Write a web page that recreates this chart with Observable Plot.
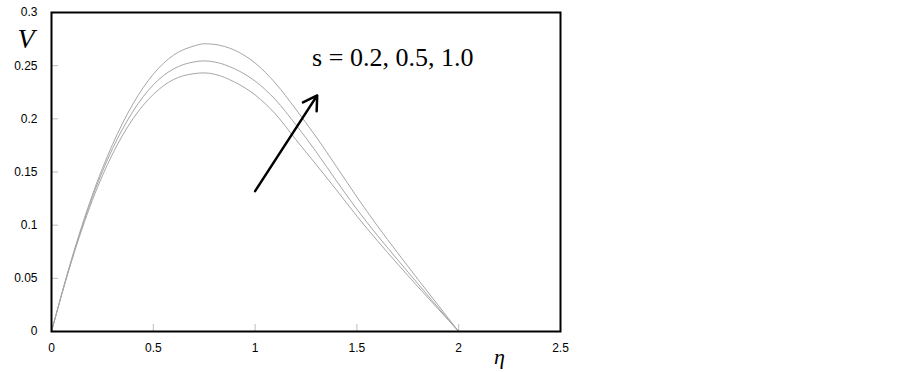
<!DOCTYPE html>
<html><head><meta charset="utf-8">
<script src="https://cdn.jsdelivr.net/npm/d3@7"></script>
<script src="https://cdn.jsdelivr.net/npm/@observablehq/plot@0.6"></script>
<style>body{margin:0;background:#fff}</style>
</head><body><div id="chart"></div>
<script>
// η grid and velocity profiles V(η) for three values of s
const eta   = [0, 0.1, 0.2, 0.3, 0.4, 0.5, 0.6, 0.7, 0.75, 0.8, 0.9, 1.0, 1.1, 1.2, 1.3, 1.4, 1.5, 1.6, 1.7, 1.8, 1.9, 2.0];
const V_s02 = [0, 0.067, 0.123, 0.167, 0.200, 0.223, 0.237, 0.2425, 0.2432, 0.2420, 0.2345, 0.2225, 0.2045, 0.1805, 0.1570, 0.1330, 0.1085, 0.0855, 0.0635, 0.0420, 0.0210, 0];
const V_s05 = [0, 0.068, 0.126, 0.172, 0.207, 0.232, 0.247, 0.2535, 0.2545, 0.2535, 0.2470, 0.2355, 0.2180, 0.1945, 0.1690, 0.1415, 0.1150, 0.0905, 0.0675, 0.0448, 0.0223, 0];
const V_s10 = [0, 0.069, 0.128, 0.176, 0.214, 0.242, 0.260, 0.2685, 0.2706, 0.2700, 0.2645, 0.2525, 0.2335, 0.2090, 0.1830, 0.1550, 0.1265, 0.0995, 0.0740, 0.0490, 0.0245, 0];
const sLabels = ["0.2", "0.5", "1.0"];

const xTicks = [0, 0.5, 1, 1.5, 2, 2.5];
const xTickLabels = ["0", "0.5", "1", "1.5", "2", "2.5"];
const yTicks = [0, 0.05, 0.1, 0.15, 0.2, 0.25, 0.3];
const yTickLabels = ["0", "0.05", "0.1", "0.15", "0.2", "0.25", "0.3"];

const annotationText = "s = 0.2, 0.5, 1.0";
const annotationAt = [{eta: 1.28, V: 0.2495}];
const arrowSeg = [{eta1: 1.0, V1: 0.132, eta2: 1.305, V2: 0.222}];
const xLabelText = "η";
const xLabelAt = [{eta: 2.2, V: 0}];
const yLabelText = "V";

const series = [V_s02, V_s05, V_s10];
const rows = [];
series.forEach((vals, k) => vals.forEach((v, i) => rows.push({eta: eta[i], V: v, s: sLabels[k]})));

const xLab = new Map(xTicks.map((t, i) => [t, xTickLabels[i]]));
const yLab = new Map(yTicks.map((t, i) => [t, yTickLabels[i]]));

const tickFont = "'Liberation Sans Narrow', 'Arial Narrow', 'Liberation Sans', Arial, sans-serif";
const serif = "'Liberation Serif', 'Times New Roman', serif";

const chart = Plot.plot({
  width: 902,
  height: 372,
  marginTop: 12,
  marginBottom: 41,
  marginLeft: 51,
  marginRight: 342,
  x: {domain: [0, 2.5], label: null},
  y: {domain: [0, 0.3], label: null},
  style: {fontFamily: tickFont, fontSize: "12px", color: "black", background: "white"},
  marks: [
    Plot.axisX({ticks: xTicks, tickSize: -7, stroke: "#bdbdbd", tickFormat: () => "", label: null}),
    Plot.axisX({ticks: xTicks, tickSize: 0, tickPadding: 12, tickFormat: d => xLab.get(d), label: null, letterSpacing: "-1px"}),
    Plot.axisY({ticks: yTicks, tickSize: -7, stroke: "#bdbdbd", tickFormat: () => "", label: null}),
    Plot.axisY({ticks: yTicks, tickSize: 0, tickPadding: 14, tickFormat: d => yLab.get(d), label: null, letterSpacing: "-1px"}),
    Plot.line(rows, {x: "eta", y: "V", z: "s", stroke: "#a6a6a6", strokeWidth: 1, curve: "monotone-x"}),
    Plot.frame({stroke: "black", strokeWidth: 2}),
    Plot.arrow(arrowSeg, {x1: "eta1", y1: "V1", x2: "eta2", y2: "V2", stroke: "black", strokeWidth: 2.5, headLength: 9.5, headAngle: 62}),
    Plot.text(annotationAt, {x: "eta", y: "V", text: () => annotationText, textAnchor: "start", lineAnchor: "bottom", fontFamily: serif, fontSize: 26, fill: "black"}),
    Plot.text(xLabelAt, {x: "eta", y: "V", text: () => xLabelText, dy: 32, lineAnchor: "bottom", fontFamily: serif, fontStyle: "italic", fontSize: 22, fill: "black"}),
    Plot.text([yLabelText], {frameAnchor: "top-left", text: d => d, dx: -34, dy: 35, lineAnchor: "bottom", fontFamily: serif, fontStyle: "italic", fontSize: 28, fill: "black"})
  ]
});
document.getElementById("chart").appendChild(chart);
</script>
</body></html>
